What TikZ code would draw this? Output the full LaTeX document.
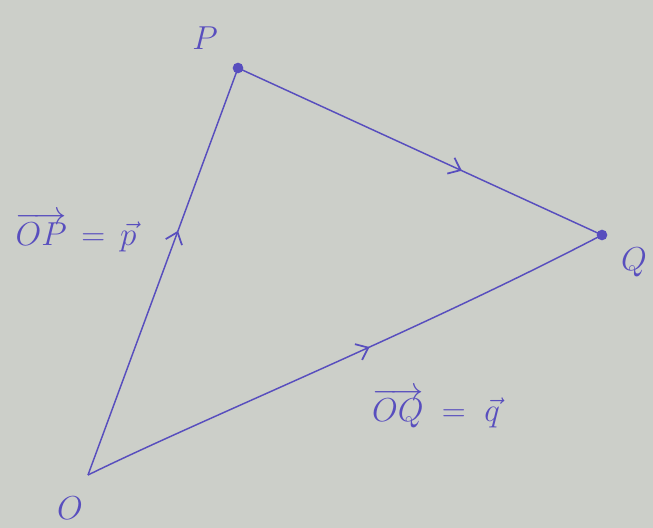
\documentclass[tikz,border=0pt]{standalone}
\usetikzlibrary{decorations.markings,arrows.meta}
\definecolor{ink}{RGB}{88,78,190}
\definecolor{paper}{RGB}{204,207,201}
\begin{document}
\begin{tikzpicture}[x=0.75pt,y=-0.75pt,
  vec/.style={draw=ink,line width=1.1pt},
  midarrow/.style={postaction={decorate},decoration={markings,mark=at position #1 with {\arrow[ink,line width=1.3pt]{Straight Barb[length=8pt,width=13pt]}}}},
  pt/.style={circle,fill=ink,inner sep=0pt,minimum size=8pt},
  lbl/.style={text=ink,font=\fontsize{24}{28}\selectfont},
  eq/.style={text=ink,font=\fontsize{28}{32}\selectfont}]
\fill[paper] (0,0) rectangle (653,528);
\useasboundingbox (0,0) rectangle (653,528);
\coordinate (O) at (88,475);
\node[pt] (P) at (238,68) {};
\node[pt] (Q) at (602,235) {};
\draw[vec,midarrow=0.6] (O) -- (P.center);
\draw[vec,midarrow=0.615] (P.center) -- (Q.center);
\draw[vec,midarrow=0.545] (O) .. controls (200,420) and (420,330) .. (Q.center);
\node[lbl] (lP) at (205,38) {$P$};
\node[lbl] (lQ) at (634,262) {$Q$};
\node[lbl] (lO) at (70,508) {$O$};
\node[eq] (eqp) at (76,232) {$\overrightarrow{OP}\,=\,\vec{p}$};
\node[eq] (eqq) at (436,408) {$\overrightarrow{OQ}\;=\;\vec{q}$};
\end{tikzpicture}
\end{document}
